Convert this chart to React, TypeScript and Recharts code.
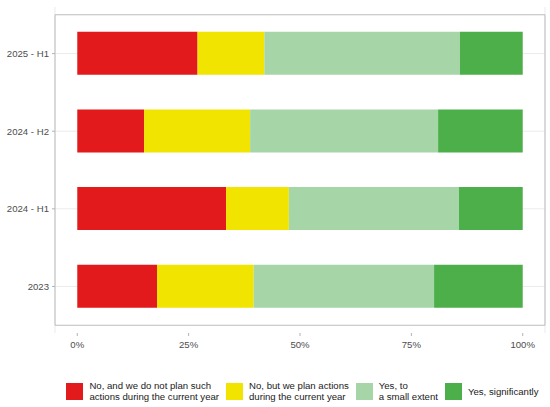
import React from "react";
import { Bar, BarChart, CartesianGrid, Legend, ReferenceArea, XAxis, YAxis } from "recharts";

// periods, top to bottom as drawn
const periods = ["2025 - H1", "2024 - H2", "2024 - H1", "2023"];

// share of answers per period (%)
const noNotPlanned = [27.0, 15.0, 33.4, 17.9];
const noButPlanned = [15.0, 23.8, 14.1, 21.7];
const yesSmall = [43.9, 42.2, 38.2, 40.5];
const yesSignificant = [14.1, 19.0, 14.3, 19.9];

const pctTicks = [0, 25, 50, 75, 100];
const gridTicks = [0, 12.5, 25, 37.5, 50, 62.5, 75, 87.5, 100];

const series = [
  { key: "noNotPlanned", label: "No, and we do not plan such\nactions during the current year", color: "#E31A1C" },
  { key: "noButPlanned", label: "No, but we plan actions\nduring the current year", color: "#F0E400" },
  { key: "yesSmall", label: "Yes, to\na small extent", color: "#A6D6A8" },
  { key: "yesSignificant", label: "Yes, significantly", color: "#4DAF4A" },
];

const rows = periods.map((period, i) => ({
  period,
  noNotPlanned: noNotPlanned[i],
  noButPlanned: noButPlanned[i],
  yesSmall: yesSmall[i],
  yesSignificant: yesSignificant[i],
}));

const font = "'Liberation Sans', Arial, sans-serif";
const tickStyle = { fill: "#4D4D4D", fontSize: 9.6, fontFamily: font };

// plain text tick, so the labels never wrap
function PeriodTick(props: any) {
  const { x, y, payload } = props;
  return (
    <text x={x} y={y} dy="0.35em" textAnchor="end" {...tickStyle}>
      {payload.value}
    </text>
  );
}

function LegendBox() {
  return (
    <div style={{ display: "flex", justifyContent: "center", alignItems: "center", gap: 7, fontFamily: font, fontSize: 9.6, color: "#1A1A1A" }}>
      {series.map((s) => (
        <div key={s.key} style={{ display: "flex", alignItems: "center" }}>
          <div style={{ width: 17, height: 17, background: s.color, marginRight: 6 }} />
          <div style={{ whiteSpace: "pre-line", lineHeight: "11px" }}>{s.label}</div>
        </div>
      ))}
    </div>
  );
}

export default function App() {
  return (
    <div style={{ width: 550, height: 407, background: "#fff" }}>
      <style>{"body{margin:0}"}</style>
      <BarChart
        width={550}
        height={407}
        data={rows}
        layout="vertical"
        barSize={43}
        margin={{ top: 7, right: 5, bottom: 54, left: 0 }}
        style={{ fontFamily: font }}
      >
        <CartesianGrid xAxisId="grid" horizontal={false} stroke="#EBEBEB" strokeWidth={1} />
        <CartesianGrid vertical={false} syncWithTicks stroke="#EBEBEB" strokeWidth={1} />
        <XAxis xAxisId="grid" type="number" domain={[-5, 105]} ticks={gridTicks} hide />
        <XAxis
          type="number"
          domain={[-5, 105]}
          ticks={pctTicks}
          tickFormatter={(v) => `${v}%`}
          height={20}
          tickSize={3}
          tickMargin={5}
          axisLine={false}
          tickLine={{ stroke: "#B3B3B3" }}
          tick={tickStyle}
        />
        <YAxis
          type="category"
          dataKey="period"
          width={55}
          padding={{ top: 7.75, bottom: 7.75 }}
          tickSize={3}
          tickMargin={3}
          axisLine={false}
          tickLine={{ stroke: "#B3B3B3" }}
          tick={<PeriodTick />}
        />
        {series.map((s) => (
          <Bar key={s.key} dataKey={s.key} stackId="a" fill={s.color} isAnimationActive={false} />
        ))}
        <ReferenceArea x1={-5} x2={105} fill="none" stroke="#BDBDBD" strokeWidth={1} />
        <Legend
          layout="horizontal"
          verticalAlign="middle"
          align="center"
          content={() => <LegendBox />}
          wrapperStyle={{ top: 380, left: 55, width: 495, height: 24 }}
        />
      </BarChart>
    </div>
  );
}
